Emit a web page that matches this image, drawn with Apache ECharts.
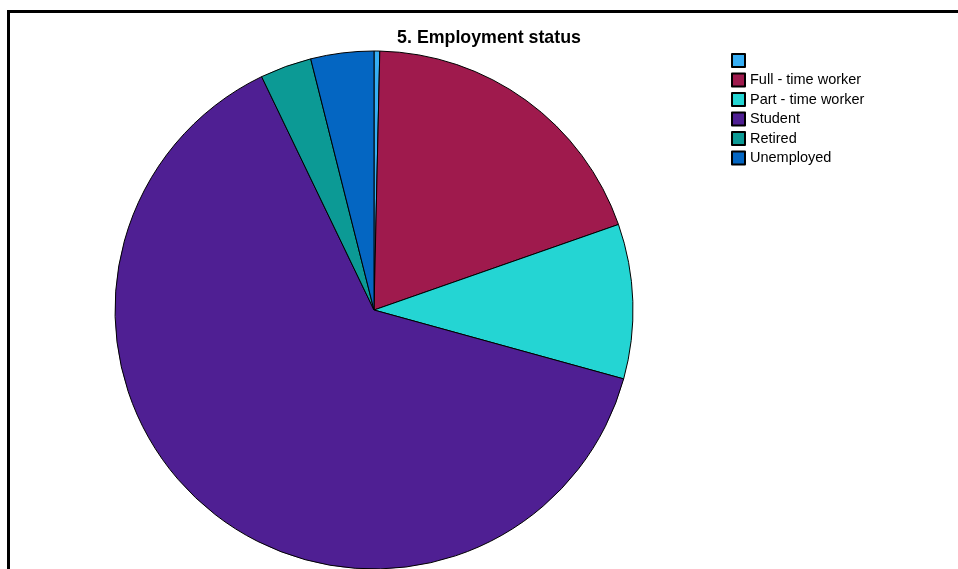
<!DOCTYPE html>
<html>
<head>
<meta charset="utf-8">
<script src="https://cdn.jsdelivr.net/npm/echarts@6/dist/echarts.min.js"></script>
<style>
  html, body { margin: 0; padding: 0; background: #fff; }
  #chart { width: 958px; height: 569px; }
</style>
</head>
<body>
<div id="chart"></div>
<script>
// Employment status categories (first one is the unanswered/blank group)
const categories = [' ', 'Full - time worker', 'Part - time worker', 'Student', 'Retired', 'Unemployed'];
// Respondent counts per category
const counts = [1, 54, 27, 178, 9, 11];
const colors = ['#36aef4', '#9f1a4d', '#24d5d3', '#4f1f93', '#0c9a95', '#0466c2'];

const chart = echarts.init(document.getElementById('chart'), null, { renderer: 'canvas' });

chart.setOption({
  animation: false,
  backgroundColor: '#ffffff',
  title: {
    text: '5. Employment status',
    left: 489,
    top: 29,
    padding: 0,
    textAlign: 'center',
    textStyle: { fontFamily: 'Liberation Sans, Arial, sans-serif', fontSize: 17.8, fontWeight: 'bold', color: '#000' }
  },
  legend: {
    orient: 'vertical',
    left: 731,
    top: 53,
    padding: 0,
    icon: 'rect',
    itemWidth: 13,
    itemHeight: 13,
    itemGap: 4.5,
    data: categories,
    textStyle: { fontFamily: 'Liberation Sans, Arial, sans-serif', fontSize: 14.5, color: '#000' }
  },
  graphic: [{
    type: 'rect',
    shape: { x: 8.5, y: 11.5, width: 1000, height: 600 },
    style: { fill: null, stroke: '#000', lineWidth: 3 },
    silent: true
  }],
  series: [{
    type: 'pie',
    center: [374, 310],
    radius: 259,
    startAngle: 90,
    clockwise: true,
    label: { show: false },
    labelLine: { show: false },
    emphasis: { disabled: true },
    itemStyle: { borderColor: '#000', borderWidth: 1 },
    data: categories.map((name, i) => ({ name: name, value: counts[i], itemStyle: { color: colors[i] } }))
  }]
});
</script>
</body>
</html>
